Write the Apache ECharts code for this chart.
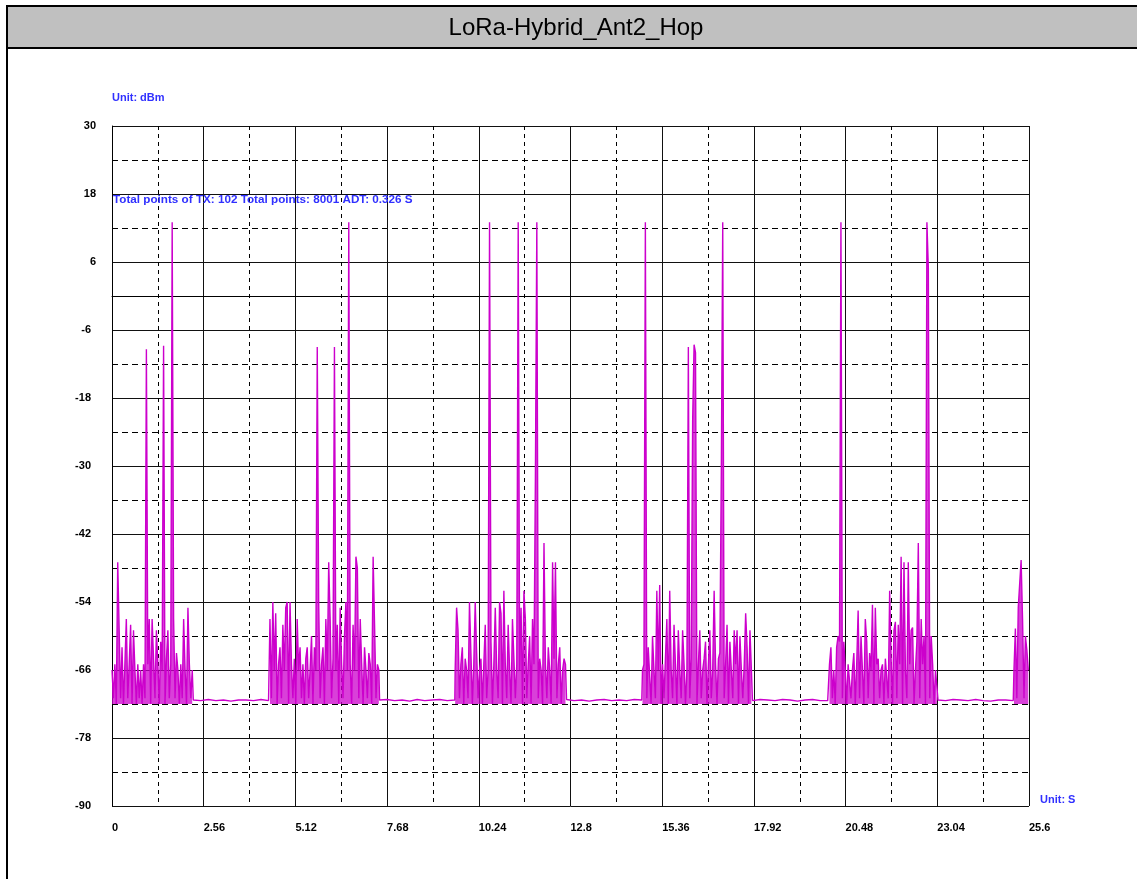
<!DOCTYPE html>
<html>
<head>
<meta charset="utf-8">
<title>LoRa-Hybrid_Ant2_Hop</title>
<script src="https://cdn.jsdelivr.net/npm/echarts@6/dist/echarts.min.js"></script>
<style>
  html, body { margin: 0; padding: 0; background: #fff; }
  #chart { width: 1137px; height: 879px; }
</style>
</head>
<body>
<div id="chart"></div>
<script>
// sample spacing (seconds) used for the hand-read values
const burstStep = 0.04
const floorStep = 0.21

const xTicks = [0, 2.56, 5.12, 7.68, 10.24, 12.8, 15.36, 17.92, 20.48, 23.04, 25.6]
const yTicks = [-90, -78, -66, -54, -42, -30, -18, -6, 6, 18, 30]

// start times (s) of each TX burst and of the idle floor after it
const burstStart = [0, 4.41, 9.58, 14.81, 20.03, 25.18]
const floorStart = [2.27, 7.47, 12.69, 17.88, 23.06]

// dBm values
const burst1 = [-66, -71, -65, -72, -47, -59, -71, -62, -72, -65, -57, -71, -65, -58, -72, -59, -66, -72, -65, -71,
  -66, -72, -65, -71, -9.4, -65, -57, -72, -57, -64, -71, -59, -65, -72, -61, -66, -8.8, -72, -64, -59,
  -71, -65, 13, -57, -71, -63, -66, -72, -65, -71, -57, -66, -72, -55, -65, -71, -66]
const burst2 = [-57, -71, -54, -66, -56, -72, -65, -62, -71, -58, -66, -55, -54, -72, -54, -65, -71, -64, -72, -57,
  -66, -62, -71, -65, -72, -64, -62, -71, -66, -60, -72, -62, -66, -9, -54, -71, -65, -62, -72, -57,
  -66, -47, -57, -71, -64, -9, -66, -58, -72, -55, -65, -71, -60, -54, -66, 13, -65, -72, -58, -66,
  -46, -48, -71, -57, -65, -72, -62, -66, -71, -63, -65, -72, -46, -58, -71, -65, -66]
const burst3 = [-66, -55, -59, -71, -65, -62, -72, -64, -66, -71, -54, -63, -72, -65, -54, -63, -71, -66, -64, -72,
  -65, -58, -71, -66, 13, -61, -72, -65, -55, -66, -71, -54, -56, -72, -52, -65, -71, -58, -66, -72,
  -57, -64, -71, -65, 13, -66, -55, -72, -52, -57, -71, -65, -60, -72, -57, -65, -32, 13, -71, -64,
  -66, -72, -43.6, -65, -71, -62, -66, -72, -47, -64, -47, -71, -65, -62, -72, -66, -64, -65]
const burst4 = [-66, -65, 13, -71, -62, -62, -72, -60, -66, -71, -52, -66, -51, -72, -65, -71, -64, -57, -72, -52,
  -66, -71, -58, -65, -72, -59, -66, -71, -59, -65, -72, -66, -9, -71, -64, -22, -8.6, -10, -72, -65,
  -59, -71, -66, -64, -61, -72, -65, -59, -71, -66, -52, -65, -72, -64, -63, -31, 13, -71, -65, -58,
  -72, -61, -66, -71, -59, -65, -59, -72, -60, -66, -71, -65, -56, -62, -72, -59, -66]
const burst5 = [-65, -62, -71, -66, -72, -62, -60, -61, 13, -71, -61, -66, -72, -65, -65, -71, -66, -63, -72, -65,
  -55.5, -71, -60, -66, -72, -57, -61, -71, -63, -66, -54.5, -72, -55, -65, -64, -71, -66, -65, -72, -64,
  -64, -71, -52, -64, -72, -59, -57.5, -71, -58, -65, -46, -72, -47, -66, -71, -47, -65, -59, -58.5, -72,
  -66, -61, -43.6, -71, -57, -65, -60, -72, 13, 5, -71, -60, -65, -72, -66, -66]
const burst6 = [-66, -58.7, -71, -55, -55, -46.6, -57, -71, -60, -62.5, -66]

const floor1 = [-71.3, -71.4, -71.2, -71.4, -71.3, -71.5, -71.3, -71.3, -71.4, -71.2, -71.4]
const floor2 = [-71.3, -71.2, -71.4, -71.3, -71.5, -71.2, -71.4, -71.3, -71.2, -71.4, -71.3]
const floor3 = [-71.2, -71.4, -71.3, -71.5, -71.3, -71.2, -71.4, -71.3, -71.4, -71.2, -71.3]
const floor4 = [-71.4, -71.2, -71.3, -71.4, -71.2, -71.3, -71.5, -71.3, -71.2, -71.4, -71.4]
const floor5 = [-71.3, -71.4, -71.2, -71.3, -71.4, -71.2, -71.4, -71.5, -71.3, -71.3, -71.4]

const bursts = [burst1, burst2, burst3, burst4, burst5, burst6]
const floors = [floor1, floor2, floor3, floor4, floor5]

const trace = []
const burstFill = []
function addSegment(target, start, step, values) {
    values.forEach((v, i) => target.push([+(start + i * step).toFixed(3), v]))
}
bursts.forEach((b, k) => {
    addSegment(trace, burstStart[k], burstStep, b)
    addSegment(burstFill, burstStart[k], burstStep, b)
    if (floors[k]) {
        addSegment(trace, floorStart[k], floorStep, floors[k])
        burstFill.push([floorStart[k], null])
    }
})

const blue = '#3030ff'
const font = 'Liberation Sans, Arial, sans-serif'
const labelFont = { fontFamily: font, fontWeight: 'bold', fontSize: 11, color: '#000' }

function blueText(x, y, text, size) {
    return {
        type: 'text',
        x: x,
        y: y,
        z: 10,
        style: {
            text: text,
            fontFamily: font,
            fontWeight: 'bold',
            fontSize: size,
            fill: blue,
            align: 'left',
            verticalAlign: 'middle'
        }
    }
}

const chart = echarts.init(document.getElementById('chart'), null, { renderer: 'canvas' })
chart.setOption({
    animation: false,
    backgroundColor: '#fff',
    graphic: [
        {
            type: 'rect',
            shape: { x: 7, y: 6, width: 1140, height: 42 },
            style: { fill: '#c0c0c0', stroke: '#000', lineWidth: 2 },
            z: 0
        },
        {
            type: 'line',
            shape: { x1: 7, y1: 6, x2: 7, y2: 890 },
            style: { stroke: '#000', lineWidth: 2 }
        },
        {
            type: 'text',
            x: 576,
            y: 28,
            z: 10,
            style: {
                text: 'LoRa-Hybrid_Ant2_Hop',
                fontFamily: font,
                fontSize: 24,
                fill: '#000',
                align: 'center',
                verticalAlign: 'middle'
            }
        },
        blueText(112, 98, 'Unit: dBm', 11),
        blueText(1040, 800, 'Unit: S', 11),
        blueText(113, 200, 'Total points of TX: 102 Total points: 8001 ADT: 0.326 S', 11.7)
    ],
    grid: {
        left: 112,
        right: 108,
        top: 126,
        bottom: 73,
        containLabel: false
    },
    xAxis: {
        type: 'value',
        min: 0,
        max: 25.6,
        interval: 2.56,
        axisLine: { show: true, lineStyle: { color: '#000', width: 1 } },
        axisTick: { show: false },
        axisLabel: {
            ...labelFont,
            margin: 16,
            align: 'left',
            showMinLabel: true,
            showMaxLabel: true,
            formatter: v => String(+v.toFixed(2))
        },
        splitLine: { show: true, lineStyle: { color: '#111', width: 1, type: 'solid' } },
        minorTick: { show: false, splitNumber: 2 },
        minorSplitLine: { show: true, lineStyle: { color: '#000', width: 1, type: [4, 4] } }
    },
    yAxis: {
        type: 'value',
        min: -90,
        max: 30,
        interval: 12,
        axisLine: { show: true, lineStyle: { color: '#000', width: 1 } },
        axisTick: { show: false },
        axisLabel: {
            ...labelFont,
            margin: 16,
            formatter: v => (v < 0 ? '{n|' + v + '}' : String(v)),
            rich: { n: { ...labelFont, padding: [0, 5, 0, 0] } }
        },
        splitLine: { show: true, lineStyle: { color: '#111', width: 1, type: 'solid' } },
        minorTick: { show: false, splitNumber: 2 },
        minorSplitLine: { show: true, lineStyle: { color: '#000', width: 1, type: [6, 4] } }
    },
    series: [
        {
            name: 'Burst fill',
            type: 'line',
            data: burstFill,
            showSymbol: false,
            symbol: 'none',
            connectNulls: false,
            lineStyle: { width: 0, color: '#cc00cc' },
            areaStyle: { origin: -72, color: '#cc00cc', opacity: 0.75 },
            silent: true,
            z: 4
        },
        {
            name: 'Power',
            type: 'line',
            data: trace,
            showSymbol: false,
            symbol: 'none',
            sampling: null,
            lineStyle: { color: '#cc00cc', width: 1.4 },
            z: 5
        }
    ]
})
</script>
</body>
</html>
